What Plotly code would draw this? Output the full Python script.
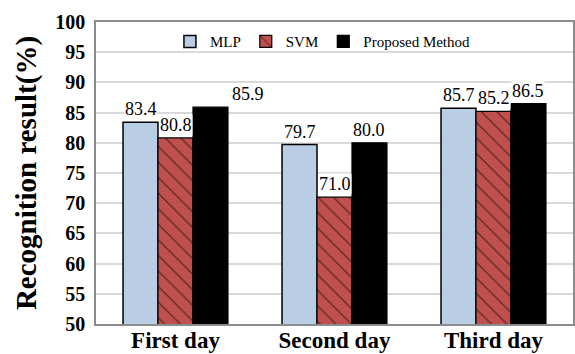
import plotly.graph_objects as go

# Recognition accuracy (%) per day for each classifier
days = ["First day", "Second day", "Third day"]
methods = ["MLP", "SVM", "Proposed Method"]
mlp = [83.4, 79.7, 85.7]
svm = [80.8, 71.0, 85.2]
proposed = [85.9, 80.0, 86.5]
y_ticks = list(range(50, 101, 5))

series = [mlp, svm, proposed]
SERIF = "Liberation Serif, Times New Roman, Times, serif"
BARGAP = 0.34

styles = [
    dict(marker=dict(color="#B9CDE5", line=dict(color="black", width=1.5))),
    dict(marker=dict(color="#C0504D", line=dict(color="black", width=1.2),
                     pattern=dict(shape="\\", fgcolor="black", bgcolor="#C0504D",
                                  size=11, solidity=0.12))),
    dict(marker=dict(color="black", line=dict(color="black", width=1.2))),
]

fig = go.Figure()
for name, vals, st in zip(methods, series, styles):
    fig.add_trace(go.Bar(x=days, y=vals, name=name, **st))

# value labels above each bar (one label pushed right where labels would collide)
label_nudge = {(2, 0): 38}
bar_w = (1 - BARGAP) / len(series)
for k, vals in enumerate(series):
    for i, v in enumerate(vals):
        fig.add_annotation(
            x=i + (k - 1) * bar_w, y=v, xref="x", yref="y",
            text=f"{v:.1f}", showarrow=False, yanchor="bottom",
            xshift=label_nudge.get((k, i), 0), yshift=2,
            bgcolor="white", borderpad=0,
            font=dict(family=SERIF, size=18, color="black"),
        )

fig.update_layout(
    width=575, height=354,
    margin=dict(l=96, r=0, t=22, b=30),
    paper_bgcolor="white", plot_bgcolor="white",
    barmode="group", bargap=BARGAP, bargroupgap=0,
    font=dict(family=SERIF, color="black"),
    showlegend=True,
    legend=dict(orientation="h", x=0.155, y=0.935, xanchor="left", yanchor="middle",
                font=dict(family=SERIF, size=15, color="black"),
                bgcolor="rgba(0,0,0,0)", itemwidth=30, tracegroupgap=0),
    xaxis=dict(
        showgrid=False, showline=True, linecolor="#8c8c8c", linewidth=1.5,
        mirror=True, ticks="", ticklabelstandoff=-5, automargin=False,
        tickfont=dict(family=SERIF, size=23, color="black", weight="bold"),
    ),
    yaxis=dict(
        range=[50, 100], tickvals=y_ticks, ticks="", ticklabelstandoff=5,
        showgrid=True, gridcolor="#D9D9D9", gridwidth=1.5,
        showline=True, linecolor="#8c8c8c", linewidth=1.5, mirror=True,
        tickfont=dict(family=SERIF, size=20, color="black", weight="bold"),
        title=dict(text="Recognition result(%)", standoff=10,
                   font=dict(family=SERIF, size=29, color="black", weight="bold")),
    ),
)

fig.write_html("out.html")
